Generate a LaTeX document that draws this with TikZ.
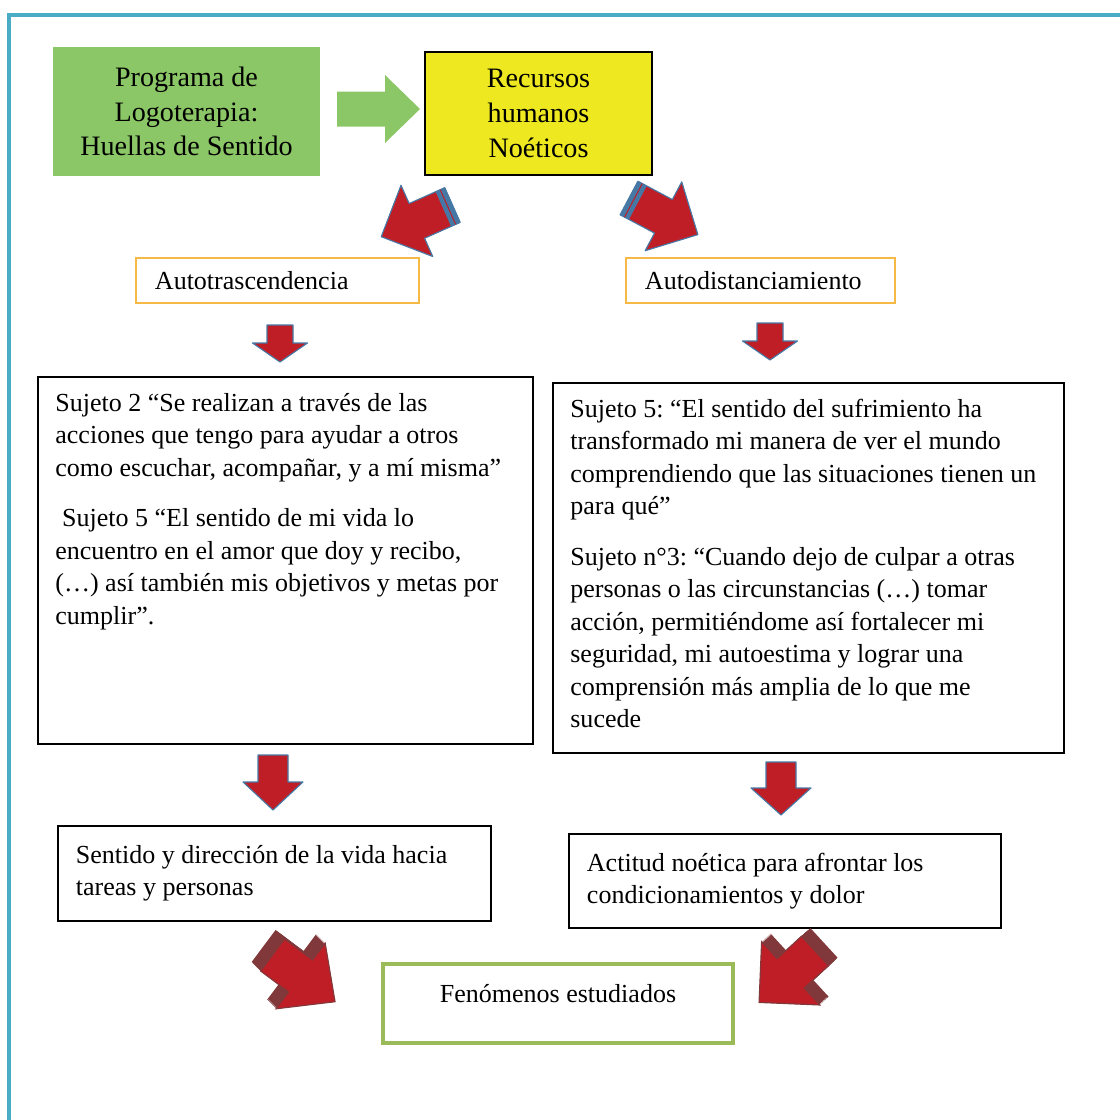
\documentclass[tikz,border=0pt]{standalone}
\usepackage{fontspec}
\setmainfont{Liberation Serif}
\usepackage{xcolor}
\usepackage{tikz}

\definecolor{framecol}{RGB}{75,172,198}
\definecolor{progreen}{RGB}{139,199,102}
\definecolor{noeyellow}{RGB}{237,232,32}
\definecolor{boxorange}{RGB}{247,185,70}
\definecolor{arrowred}{RGB}{192,30,38}
\definecolor{darkred}{RGB}{128,56,58}
\definecolor{steelblue}{RGB}{70,120,165}
\definecolor{fengreen}{RGB}{155,187,89}

\tikzset{
  pics/blockarrow/.style n args={4}{code={
    \path[pic actions] (0,#2) -- ({#1-#4},#2) -- ({#1-#4},#3) -- (#1,0)
      -- ({#1-#4},-#3) -- ({#1-#4},-#2) -- (0,-#2) -- cycle;
  }},
  pics/tailband/.style n args={2}{code={
    \fill[steelblue] (0,-#1) rectangle (#2,#1);
    \draw[arrowred, line width=0.7pt] ({#2/2},-#1) -- ({#2/2},#1);
  }}
}

\begin{document}
\frenchspacing
\begin{tikzpicture}[
				x=0.025cm, y=0.025cm,
				txt/.style={font=\fontsize{18.5}{23.1}\selectfont, align=left, inner sep=0pt},
				titlebox/.style={font=\fontsize{20}{24.8}\selectfont, align=center},
				headbox/.style={draw=boxorange, line width=1pt, font=\fontsize{18.5}{23.1}\selectfont, align=flush left, inner xsep=0.475cm, minimum height=1.125cm},
				quotebox/.style={draw=black, line width=1.2pt},
				resbox/.style={draw=black, line width=1.2pt, font=\fontsize{18.5}{23.1}\selectfont, align=flush left, inner xsep=0.45cm},
				redarrow/.style={fill=arrowred, draw=steelblue, line width=0.8pt, line join=round}
				]
				\useasboundingbox (0,0) rectangle (1120,-1120);
				% Frame
				\draw[framecol, line width=2.8pt] (9,-1130) -- (9,-15) -- (1130,-15);
				
				% Nodes
				\node (prog) [titlebox, fill=progreen, minimum width=6.675cm, minimum height=3.225cm] at (186.5,-111.5) {Programa de\\Logoterapia:\\Huellas de Sentido};
				\node (recursos) [titlebox, fill=noeyellow, draw=black, line width=1.2pt, minimum width=5.675cm, minimum height=3.075cm] at (538.5,-113.5) {Recursos\\humanos\\Noéticos};
				\node (autotras) [headbox, text width=6.125cm] at (277.5,-280.5) {Autotrascendencia};
				\node (autodist) [headbox, text width=5.775cm] at (760.5,-280.5) {Autodistanciamiento};
				\node (leftbig) [quotebox, minimum width=12.375cm, minimum height=9.175cm] at (285.5,-560.5) {};
				\node (rightbig) [quotebox, minimum width=12.775cm, minimum height=9.25cm] at (808.5,-568) {};
				\node (lefttext) [txt, anchor=north west] at ([shift={(18,-12)}]leftbig.north west) {\strut Sujeto 2 “Se realizan a través de las\\
					acciones que tengo para ayudar a otros\\
					como escuchar, acompañar, y a mí misma”\\[0.46cm]
					\hspace{0.17cm}Sujeto 5 “El sentido de mi vida lo\\
					encuentro en el amor que doy y recibo,\\
					(…) así también mis objetivos y metas por\\
					cumplir”.};
				\node (righttext) [txt, anchor=north west] at ([shift={(18,-12)}]rightbig.north west) {\strut Sujeto 5: “El sentido del sufrimiento ha\\
					transformado mi manera de ver el mundo\\
					comprendiendo que las situaciones tienen un\\
					para qué”\\[0.46cm]
					Sujeto n°3: “Cuando dejo de culpar a otras\\
					personas o las circunstancias (…) tomar\\
					acción, permitiéndome así fortalecer mi\\
					seguridad, mi autoestima y lograr una\\
					comprensión más amplia de lo que me\\
					sucede};
				\node (leftres) [resbox, text width=9.925cm, minimum height=2.375cm] at (274.5,-873.5) {Sentido y dirección de la vida hacia\\tareas y personas};
				\node (rightres) [resbox, text width=9.9cm, minimum height=2.35cm] at (785,-881) {Actitud noética para afrontar los\\condicionamientos y dolor};
				\node (fen) [draw=fengreen, line width=2.5pt, minimum width=8.75cm, minimum height=1.975cm] at (558,-1003.5) {};
				\node (fentext) [txt, anchor=base] at ([shift={(0,-40)}]fen.north) {Fenómenos estudiados};
				
				% Arrows
				\pic[fill=progreen] at (337,-109) {blockarrow={83}{17.5}{34}{35}};
				\pic[redarrow, rotate=204] at (452.5,-205) {blockarrow={78}{19}{39}{39}};
				\pic[rotate=204] at (452.5,-205) {tailband={19}{10}};
				\pic[redarrow, rotate=-28] at (629,-198) {blockarrow={78}{19}{39}{39}};
				\pic[rotate=-28] at (629,-198) {tailband={19}{10}};
				\pic[redarrow, rotate=-90] at (280,-325) {blockarrow={37}{13}{27.5}{19}};
				\pic[redarrow, rotate=-90] at (770,-323) {blockarrow={37}{13}{27.5}{19}};
				\pic[redarrow, rotate=-90] at (273,-755) {blockarrow={55}{15}{30}{28}};
				\pic[redarrow, rotate=-90] at (781,-762) {blockarrow={53}{15}{30}{27}};
				\foreach \s in {1,...,9}
					\pic[fill=darkred, rotate=-36.8] at ({272.6-\s},{-955+\s}) {blockarrow={78}{20}{41}{43}};
				\pic[fill=arrowred, draw=darkred, line width=0.8pt, rotate=-36.8] at (272.6,-955) {blockarrow={78}{20}{41}{43}};
				\foreach \s in {1,...,9}
					\pic[fill=darkred, rotate=222.6] at ({815+\s},{-951+0.9*\s}) {blockarrow={76}{20}{43}{43}};
				\pic[fill=arrowred, draw=darkred, line width=0.8pt, rotate=222.6] at (815,-951) {blockarrow={76}{20}{43}{43}};
			\end{tikzpicture}
\end{document}
